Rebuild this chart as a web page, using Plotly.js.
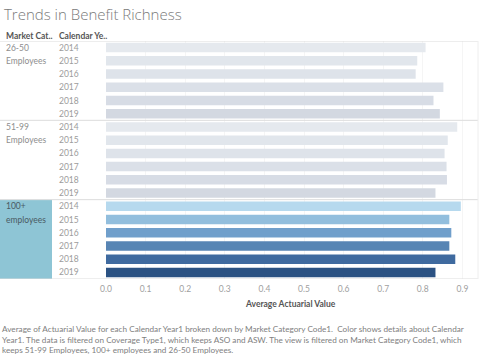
<!DOCTYPE html>
<html><head><meta charset="utf-8">
<script src="https://cdn.plot.ly/plotly-3.0.1.min.js"></script>
<style>html,body{margin:0;padding:0;background:#fff;}#chart{width:480px;height:354px;}</style>
</head><body><div id="chart"></div>
<script>
const groups = ["26-50 Employees", "51-99 Employees", "100+ employees"];
const groupLabelLines = [["26-50", "Employees"], ["51-99", "Employees"], ["100+", "employees"]];
const years = ["2014", "2015", "2016", "2017", "2018", "2019"];
const values_26_50 = [0.807, 0.786, 0.782, 0.852, 0.827, 0.843];
const values_51_99 = [0.887, 0.863, 0.855, 0.860, 0.861, 0.832];
const values_100p  = [0.896, 0.867, 0.872, 0.867, 0.882, 0.832];
const xTicks = [0, 0.1, 0.2, 0.3, 0.4, 0.5, 0.6, 0.7, 0.8, 0.9];
const xTickText = ["0.0", "0.1", "0.2", "0.3", "0.4", "0.5", "0.6", "0.7", "0.8", "0.9"];

const greyColors = ["#e5e9ee", "#e1e6ec", "#dee3ea", "#dbe0e8", "#d7dce5", "#d3d8e1"];
const blueColors = ["#b6d9ee", "#92bedd", "#709fcb", "#5885b4", "#3f6a9f", "#2b5283"];

const allValues = [values_26_50, values_51_99, values_100p];
const W = 480, H = 354, L = 106, R = 2, T = 41, B = 75;
const PW = W - L - R, PH = H - T - B;
const px = p => (p - L) / PW;
const py = p => (H - B - p) / PH;

const yKeys = [], xs = [], colors = [];
groups.forEach((g, gi) => {
  years.forEach((yr, yi) => {
    yKeys.push(g + " " + yr);
    xs.push(allValues[gi][yi]);
    colors.push(gi === 2 ? blueColors[yi] : greyColors[yi]);
  });
});

const FAM = "Lato, 'Open Sans', sans-serif";
const annotations = [];
const shapes = [];

// year labels
yKeys.forEach((k, i) => {
  annotations.push({xref: "paper", yref: "y", x: px(57), y: k, text: years[i % 6],
    showarrow: false, xanchor: "left", yanchor: "middle",
    font: {family: FAM, size: 8.5, color: "#9c9c9c"}});
});
// group labels (one line per row)
groups.forEach((g, gi) => {
  groupLabelLines[gi].forEach((line, li) => {
    annotations.push({xref: "paper", yref: "y", x: px(4), y: yKeys[gi * 6 + li], text: line,
      showarrow: false, xanchor: "left", yanchor: "middle",
      font: {family: FAM, size: 8.5, color: gi === 2 ? "#4a5a63" : "#8e8e8e"}});
  });
});
// 100+ cell background
shapes.push({type: "rect", xref: "paper", yref: "y", x0: px(0), x1: px(52), y0: 11.5, y1: 17.5,
  fillcolor: "#8ec5d5", line: {width: 0}, layer: "below"});
// separator lines
[-0.5, 5.5, 11.5, 17.5].forEach(v => {
  shapes.push({type: "line", xref: "paper", yref: "y", x0: px(0), x1: 1, y0: v, y1: v,
    line: {color: "#dcdcdc", width: 1}});
});
// right border
shapes.push({type: "line", xref: "paper", yref: "y", x0: 1, x1: 1, y0: -0.5, y1: 17.5,
  line: {color: "#eeeeee", width: 1}});

// header
annotations.push({xref: "paper", yref: "paper", x: px(4), y: py(36), yanchor: "middle", xanchor: "left",
  text: "Market Cat..", showarrow: false,
  font: {family: FAM, size: 8.5, color: "#555", weight: 700}});
annotations.push({xref: "paper", yref: "paper", x: px(57), y: py(36), yanchor: "middle", xanchor: "left",
  text: "Calendar Ye..", showarrow: false,
  font: {family: FAM, size: 8.5, color: "#555", weight: 700}});
// title
annotations.push({xref: "paper", yref: "paper", x: px(2), y: py(14), yanchor: "middle", xanchor: "left",
  text: "Trends in Benefit Richness", showarrow: false,
  font: {family: "'Open Sans', Lato, sans-serif", size: 15, color: "#7a7a7a", weight: 300}});
// x-axis title
annotations.push({xref: "paper", yref: "paper", x: px(290), y: py(304), yanchor: "middle", xanchor: "center",
  text: "Average Actuarial Value", showarrow: false,
  font: {family: FAM, size: 8.5, color: "#555", weight: 700}});
// caption
annotations.push({xref: "paper", yref: "paper", x: px(0), y: py(322), yanchor: "top", xanchor: "left",
  align: "left", showarrow: false,
  text: "Average of Actuarial Value for each Calendar Year1 broken down by Market Category Code1.  Color shows details about Calendar<br>Year1. The data is filtered on Coverage Type1, which keeps ASO and ASW. The view is filtered on Market Category Code1, which<br>keeps 51-99 Employees, 100+ employees and 26-50 Employees.",
  font: {family: FAM, size: 8.2, color: "#808080"}});

const trace = {type: "bar", orientation: "h", y: yKeys, x: xs, width: 0.72,
  marker: {color: colors}, hoverinfo: "x+y"};

const layout = {
  width: W, height: H,
  margin: {l: L, r: R, t: T, b: B},
  paper_bgcolor: "#fff", plot_bgcolor: "#fff",
  showlegend: false,
  xaxis: {range: [0, 0.9394], tickvals: xTicks, ticktext: xTickText, showgrid: true,
    gridcolor: "#f5f5f5", zeroline: false, showline: false, ticks: "", automargin: false,
    ticklabelstandoff: 3,
    tickfont: {family: FAM, size: 8.5, color: "#a0a0a0"}},
  yaxis: {type: "category", categoryorder: "array", categoryarray: yKeys,
    range: [yKeys.length - 0.5, -0.5], autorange: false, showticklabels: false, showgrid: false,
    zeroline: false, showline: false, ticks: "", automargin: false},
  annotations: annotations, shapes: shapes
};
Plotly.newPlot("chart", [trace], layout, {displayModeBar: false, staticPlot: true});
</script></body></html>
